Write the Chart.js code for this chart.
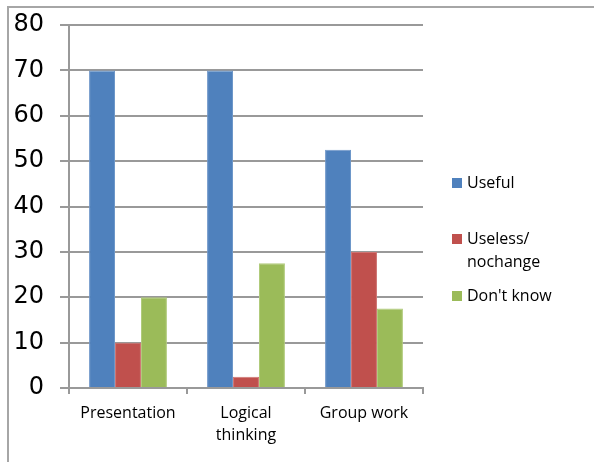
<!DOCTYPE html>
<html>
<head>
<meta charset="utf-8">
<script src="https://cdn.jsdelivr.net/npm/chart.js@4"></script>
<style>
  html, body { margin: 0; padding: 0; background: #fff; }
  #wrap { position: relative; width: 594px; height: 462px; overflow: hidden; }
  #frame {
    position: absolute; left: 7px; top: 6px; width: 700px; height: 600px;
    border-left: 2px solid #a6a6a6; border-top: 2px solid #a6a6a6;
  }
  #chart { position: absolute; left: 0; top: 0; }
</style>
</head>
<body>
<div id="wrap">
  <div id="frame"></div>
  <canvas id="chart" width="594" height="462"></canvas>
</div>
<script>
const categories = ['Presentation', ['Logical', 'thinking'], 'Group work'];
const seriesNames = ['Useful', ['Useless/', 'nochange'], "Don't know"];
const useful = [70, 70, 52.5];
const useless = [10, 2.5, 30];
const dontKnow = [20, 27.5, 17.5];
const yTicks = [0, 10, 20, 30, 40, 50, 60, 70, 80];

const colors = ['#4f81bd', '#c0504d', '#9bbb59'];
const edges = ['#6f97c9', '#cf7573', '#b1cb7c'];
const gridColor = '#999999';

// legend drawn on the right side, one box per series, multi-line names allowed
const sideLegend = {
    id: 'sideLegend',
    afterDraw(chart) {
        const ctx = chart.ctx;
        const x = chart.chartArea.right + 29;
        const rows = [[183], [239, 262], [296]];
        ctx.save();
        ctx.font = '16px "Open Sans"';
        ctx.textBaseline = 'middle';
        chart.data.datasets.forEach((ds, i) => {
            const lines = Array.isArray(seriesNames[i]) ? seriesNames[i] : [seriesNames[i]];
            ctx.fillStyle = ds.backgroundColor;
            ctx.fillRect(x, rows[i][0] - 5, 10, 10);
            ctx.fillStyle = '#000';
            lines.forEach((t, j) => ctx.fillText(t, x + 15, rows[i][j]));
        });
        ctx.restore();
    }
};

const datasets = [useful, useless, dontKnow].map((vals, i) => ({
    label: Array.isArray(seriesNames[i]) ? seriesNames[i].join(' ') : seriesNames[i],
    data: vals,
    backgroundColor: colors[i],
    borderColor: edges[i],
    borderWidth: 1,
    categoryPercentage: 0.66,
    barPercentage: 1
}));

new Chart(document.getElementById('chart'), {
    type: 'bar',
    data: { labels: categories, datasets: datasets },
    options: {
        responsive: false,
        animation: false,
        layout: { padding: { top: 25, right: 171, left: 0, bottom: 0 } },
        plugins: { legend: { display: false }, tooltip: { enabled: false } },
        scales: {
            x: {
                afterFit(scale) { scale.height = 74; },
                grid: { drawOnChartArea: false, drawTicks: true, tickLength: 6, color: gridColor, lineWidth: 2 },
                border: { color: gridColor, width: 2 },
                ticks: { color: '#000', padding: 8, font: { family: 'Open Sans', size: 16, lineHeight: 1.4 }, maxRotation: 0 }
            },
            y: {
                min: 0,
                max: 80,
                afterFit(scale) {
                    scale.width = 69;
                    // labels only need half their height above the top line
                    scale.paddingTop = 12;
                    scale.paddingBottom = 12;
                },
                afterBuildTicks(scale) { scale.ticks = yTicks.map(v => ({ value: v })); },
                grid: { color: gridColor, lineWidth: 2, tickLength: 9 },
                border: { color: gridColor, width: 2 },
                ticks: { color: '#000', padding: 16, font: { family: 'DejaVu Sans', size: 24 } }
            }
        }
    },
    plugins: [sideLegend]
});
</script>
</body>
</html>
